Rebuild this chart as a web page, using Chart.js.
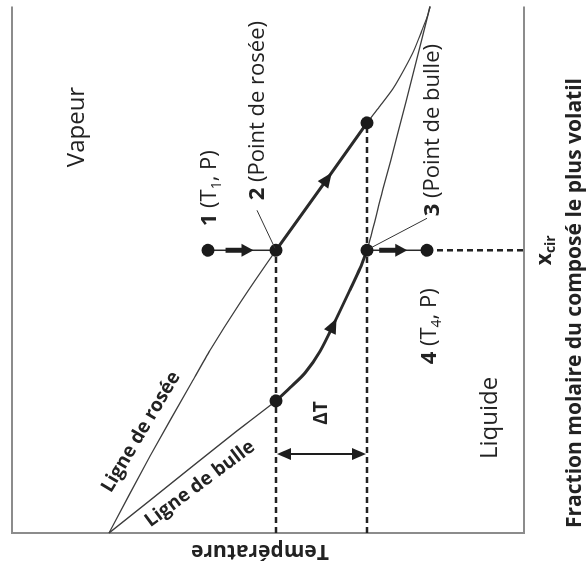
<!DOCTYPE html>
<html>
<head>
<meta charset="utf-8">
<script src="https://cdn.jsdelivr.net/npm/chart.js@4.4.0/dist/chart.umd.min.js"></script>
<style>
  html, body { margin: 0; padding: 0; background: #fff; overflow: hidden; }
  #wrap { position: absolute; left: 0; top: 0; width: 587px; height: 575px; }
  /* the diagram is drawn upright (x = fraction, y = T) and turned a quarter turn to the left */
  #chart { position: absolute; left: 0; top: 0; transform-origin: 0 0; transform: translateY(575px) rotate(-90deg); }
</style>
</head>
<body>
<div id="wrap"><canvas id="chart" width="575" height="587"></canvas></div>
<script>
// Dew line (ligne de rosée): mole fraction / temperature
const dewX = [0, 0.146, 0.287, 0.347, 0.437, 0.537, 0.672, 0.779, 0.811, 0.844, 0.88, 0.917, 0.955, 0.985, 1];
const dewT = [81.05, 73.05, 64.84, 61.33, 55.47, 48.44, 38.48, 30.66, 28.13, 25.59, 23.44, 21.48, 19.92, 18.75, 18.36];

// Bubble line (ligne de bulle)
const bubbleX = [0, 0.062, 0.126, 0.191, 0.251, 0.276, 0.304, 0.345, 0.402, 0.462, 0.503, 0.537, 0.653, 0.76, 0.88, 1];
const bubbleT = [81.05, 73.05, 64.84, 56.45, 48.44, 45.7, 42.77, 39.84, 36.91, 33.98, 32.03, 30.66, 27.54, 24.61, 21.48, 18.36];

// vapour composition path (2 -> top of dew segment), liquid composition path (bottom of bubble segment -> 3)
const vapourX = [0.537, 0.672, 0.779];
const vapourT = [48.44, 38.48, 30.66];
const liquidX = [0.251, 0.276, 0.304, 0.345, 0.402, 0.462, 0.503, 0.537];
const liquidT = [48.44, 45.7, 42.77, 39.84, 36.91, 33.98, 32.03, 30.66];

// states 1..4 at constant composition x_cir
const xcir = 0.537;
const stateNames = ['1', '2', '3', '4'];
const stateT = [61.72, 48.44, 30.66, 18.95];
const deltaTX = 0.15;

const pts = (xs, ts) => xs.map((x, i) => ({ x: x, y: ts[i] }));
const T2 = stateT[1], T3 = stateT[2];

const markers = pts([xcir, xcir, xcir, xcir, vapourX[vapourX.length - 1], liquidX[0]],
                    [...stateT, vapourT[vapourT.length - 1], liquidT[0]]);

function line(data, width, color, extra) {
  return Object.assign({ data: data, showLine: true, borderColor: color, borderWidth: width,
    pointRadius: 0, fill: false, clip: false }, extra || {});
}
const dash = { borderDash: [6, 4] };

function arrowHead(ctx, x, y, ang, len, half) {
  const c = Math.cos(ang), s = Math.sin(ang);
  ctx.beginPath();
  ctx.moveTo(x, y);
  ctx.lineTo(x - len * c + half * s, y - len * s - half * c);
  ctx.lineTo(x - len * c - half * s, y - len * s + half * c);
  ctx.closePath();
  ctx.fill();
}

// arrow head placed a fraction of the way along a drawn dataset
function arrowAlong(chart, idx, frac) {
  const el = chart.getDatasetMeta(idx).data;
  let total = 0;
  const seg = [];
  for (let i = 1; i < el.length; i++) {
    const d = Math.hypot(el[i].x - el[i - 1].x, el[i].y - el[i - 1].y);
    seg.push(d); total += d;
  }
  let want = total * frac;
  for (let i = 0; i < seg.length; i++) {
    if (want <= seg[i] || i === seg.length - 1) {
      const t = want / seg[i];
      const a = el[i], b = el[i + 1];
      const x = a.x + (b.x - a.x) * t, y = a.y + (b.y - a.y) * t;
      arrowHead(chart.ctx, x, y, Math.atan2(b.y - a.y, b.x - a.x), 15, 6.5);
      return;
    }
    want -= seg[i];
  }
}

function richText(ctx, parts, x, y, align, size) {
  const fontOf = p => (p[1].includes('b') ? 'bold ' : '') +
    (p[1].includes('s') ? Math.round(size * 0.65) : size) + 'px "Open Sans"';
  let w = 0;
  parts.forEach(p => { ctx.font = fontOf(p); w += ctx.measureText(p[0]).width; });
  let cx = align === 'right' ? x - w : align === 'center' ? x - w / 2 : x;
  ctx.textAlign = 'left';
  ctx.textBaseline = 'middle';
  parts.forEach(p => {
    ctx.font = fontOf(p);
    ctx.fillText(p[0], cx, p[1].includes('s') ? y + size * 0.3 : y);
    cx += ctx.measureText(p[0]).width;
  });
}

function rotatedText(ctx, text, x, y, ang, font) {
  ctx.save();
  ctx.translate(x, y);
  ctx.rotate(ang);
  ctx.font = font;
  ctx.textAlign = 'center';
  ctx.textBaseline = 'middle';
  ctx.fillText(text, 0, 0);
  ctx.restore();
}

const annotations = {
  id: 'annotations',
  beforeDatasetsDraw(chart) {
    const { ctx, chartArea: a } = chart;
    ctx.save();
    ctx.strokeStyle = '#8c8c8c';
    ctx.lineWidth = 2;
    ctx.beginPath();
    ctx.moveTo(a.right, a.top);
    ctx.lineTo(a.left, a.top);
    ctx.lineTo(a.left, a.bottom);
    ctx.lineTo(a.right, a.bottom);
    ctx.stroke();
    ctx.restore();
  },
  afterDatasetsDraw(chart) {
    const { ctx, chartArea: a, scales: { x, y } } = chart;
    const px = x.getPixelForValue(xcir);
    const py = stateT.map(t => y.getPixelForValue(t));
    ctx.save();
    ctx.fillStyle = '#1e1e1e';
    ctx.strokeStyle = '#1e1e1e';

    // cooling arrows 1 -> 2 and 3 -> 4
    [[py[0], py[1]], [py[2], py[3]]].forEach(([p0, p1]) => {
      const tip = p0 + (p1 - p0) * 0.67;
      ctx.lineWidth = 5;
      ctx.beginPath();
      ctx.moveTo(px, tip - 28);
      ctx.lineTo(px, tip - 10);
      ctx.stroke();
      arrowHead(ctx, px, tip, Math.PI / 2, 12, 6.5);
    });

    // arrows on the composition paths
    arrowAlong(chart, 1, 0.61);
    arrowAlong(chart, 2, 0.58);

    // delta T double arrow
    const dx = x.getPixelForValue(deltaTX);
    const y2 = y.getPixelForValue(T2), y3 = y.getPixelForValue(T3);
    ctx.lineWidth = 2;
    ctx.beginPath();
    ctx.moveTo(dx, y2 + 10);
    ctx.lineTo(dx, y3 - 10);
    ctx.stroke();
    arrowHead(ctx, dx, y2 + 1, -Math.PI / 2, 14, 6);
    arrowHead(ctx, dx, y3 - 1, Math.PI / 2, 14, 6);

    // leader lines for 2 and 3
    ctx.lineWidth = 1;
    ctx.strokeStyle = '#333';
    ctx.beginPath();
    ctx.moveTo(px + 2, py[1] - 1);
    ctx.lineTo(px + 40, py[1] - 19);
    ctx.moveTo(px + 2, py[2] + 3);
    ctx.lineTo(px + 32, py[2] + 60);
    ctx.stroke();

    ctx.fillStyle = '#222';
    richText(ctx, [['1', 'b'], [' (T', ''], ['1', 's'], [', P)', '']], px + 24, py[0] + 2, 'left', 22);
    richText(ctx, [['2', 'b'], [' (Point de rosée)', '']], px + 50, py[1] - 18, 'left', 22);
    richText(ctx, [['3', 'b'], [' (Point de bulle)', '']], px + 34, py[2] + 66, 'left', 22);
    richText(ctx, [['4', 'b'], [' (T', ''], ['4', 's'], [', P)', '']], px - 38, py[3] + 3, 'right', 22);

    richText(ctx, [['Vapeur', '']], 448, 77, 'center', 24);
    richText(ctx, [['Liquide', '']], 157, 490, 'center', 24);
    richText(ctx, [['ΔT', 'b']], dx + 41, (y2 + y3) / 2, 'center', 19);

    rotatedText(ctx, 'Ligne de rosée', 143, 141, 0.535, 'bold 19px "Open Sans"');
    rotatedText(ctx, 'Ligne de bulle', 91, 200, 0.93, 'bold 19px "Open Sans"');

    // axes titles and the x_cir mark
    richText(ctx, [['x', 'b'], ['cir', 'bs']], px, a.bottom + 21, 'center', 21);
    rotatedText(ctx, 'Température', a.left - 18, 260, -Math.PI / 2, 'bold 21px "Open Sans"');
    richText(ctx, [['Fraction molaire du composé le plus volatil', 'b']], 272, 575, 'center', 21);
    ctx.restore();
  }
};

new Chart(document.getElementById('chart').getContext('2d'), {
  type: 'scatter',
  data: {
    datasets: [
      { data: markers, pointRadius: 6.5, pointBackgroundColor: '#1a1a1a', pointBorderWidth: 0, showLine: false, clip: false },
      line(pts(vapourX, vapourT), 3, '#2a2a2a'),
      line(pts(liquidX, liquidT), 3, '#2a2a2a', { tension: 0.3 }),
      line(pts(dewX, dewT), 1.3, '#3c3c3c', { tension: 0.2 }),
      line(pts(bubbleX, bubbleT), 1.3, '#3c3c3c', { tension: 0.15 }),
      line(pts([xcir, xcir], [stateT[0], stateT[1]]), 1.5, '#2a2a2a'),
      line(pts([xcir, xcir], [stateT[2], stateT[3]]), 1.5, '#2a2a2a'),
      line(pts([0, xcir], [T2, T2]), 2.5, '#222', dash),
      line(pts([0, vapourX[vapourX.length - 1]], [T3, T3]), 2.5, '#222', dash),
      line(pts([xcir, xcir], [stateT[3], 0]), 2.5, '#222', dash)
    ]
  },
  options: {
    responsive: false,
    animation: false,
    events: [],
    layout: { padding: { left: 42, right: 0, top: 12, bottom: 63 } },
    plugins: { legend: { display: false }, tooltip: { enabled: false } },
    scales: {
      x: { type: 'linear', min: 0, max: 1, display: false },
      y: { type: 'linear', min: 0, max: 100, display: false }
    }
  },
  plugins: [annotations]
});
</script>
</body>
</html>
